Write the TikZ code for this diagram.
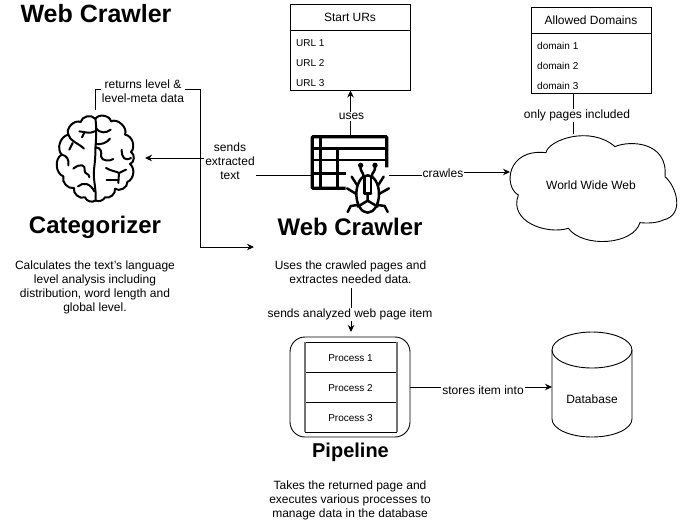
\documentclass[tikz,border=0pt]{standalone}
\usepackage{fontspec}
\setmainfont{Liberation Sans}
\usetikzlibrary{arrows.meta}
\tikzset{
  txt/.style={inner sep=0pt,align=center,font=\fontsize{12}{14.4}\selectfont,text height=8.7pt,text depth=2.5pt},
  multi/.style={inner sep=1pt,align=center,font=\fontsize{12}{14.2}\selectfont},
  small/.style={inner sep=0pt,font=\fontsize{10}{12}\selectfont,text height=7.2pt,text depth=0pt},
  bigtitle/.style={inner sep=0pt,font=\bfseries\fontsize{24}{28}\selectfont},
  toptitle/.style={inner sep=0pt,font=\bfseries\fontsize{25}{28}\selectfont},
  midtitle/.style={inner sep=0pt,font=\bfseries\fontsize{20}{24}\selectfont},
  lbl/.style={fill=white,inner sep=1pt,align=center,font=\fontsize{12}{14.2}\selectfont},
  box/.style={draw=black,line width=0.9pt,inner sep=0pt},
  ghost/.style={inner sep=0pt,outer sep=0pt},
  conn/.style={line width=0.9pt,draw=black},
  arr/.style={conn,-{Stealth[length=7pt,width=6.5pt]}},
  ink/.style={line width=2pt,line cap=round,line join=round,draw=black},
  buglines/.style={line width=2.5pt,line cap=round,line join=round,draw=black},
  tabthick/.style={line width=3.2pt,line cap=butt,draw=black},
  tabthin/.style={line width=2.4pt,line cap=butt,draw=black},
}
\begin{document}
\begin{tikzpicture}[x=1pt,y=-1pt]
\useasboundingbox (0,0) rectangle (685,528);

% Title and captions
\node[toptitle] (title) at (96,13.5) {Web Crawler};
\node[bigtitle] (catname) at (95,227.5) {Categorizer};
\node[bigtitle] (crawlname) at (350,226.5) {Web Crawler};
\node[midtitle] (pipename) at (350.5,452.5) {Pipeline};
\node[multi] (catdesc) at (95,287.5) {Calculates the text's language\\level analysis including\\distribution, word length and\\global level.};
\node[multi] (crawldesc) at (350.5,272.5) {Uses the crawled pages and\\extractes needed data.};
\node[multi] (pipedesc) at (350,500.5) {Takes the returned page and\\executes various processes to\\manage data in the database};

% Start URLs list
\node[box,minimum width=119.5pt,minimum height=86pt] (start) at (350.25,47) {};
\draw[conn] (start.west |- 0,30.5) -- (start.east |- 0,30.5);
\node[txt] (starthead) at (350,18) {Start URs};
\node[small,anchor=west] (url1) at (296,43) {URL 1};
\node[small,anchor=west] (url2) at (296,63) {URL 2};
\node[small,anchor=west] (url3) at (296,83) {URL 3};

% Allowed domains list
\node[box,minimum width=120pt,minimum height=85.5pt] (allowed) at (591.5,50.25) {};
\draw[conn] (allowed.west |- 0,33) -- (allowed.east |- 0,33);
\node[txt] (allowedhead) at (591,21) {Allowed Domains};
\node[small,anchor=west] (dom1) at (537,46) {domain 1};
\node[small,anchor=west] (dom2) at (537,66) {domain 2};
\node[small,anchor=west] (dom3) at (537,86) {domain 3};

% Cloud
\begin{scope}[shift={(490,0)},x=0.3333pt,y=-0.3333pt]
\draw[conn] (168,458) .. controls (175,420) and (300,375) .. (375,440)
  .. controls (420,420) and (535,425) .. (525,530)
  .. controls (560,560) and (585,645) .. (520,660)
  .. controls (500,670) and (470,670) .. (450,668)
  .. controls (430,735) and (280,745) .. (235,685)
  .. controls (170,705) and (55,665) .. (85,585)
  .. controls (40,560) and (50,445) .. (168,458) -- cycle;
\end{scope}
\node[txt] (web) at (591,186) {World Wide Web};
\coordinate (cloudin) at (510,172);
\coordinate (cloudtop) at (573,134);

% Pipeline
\node[draw=black,line width=0.9pt,rounded corners=15pt,minimum width=120pt,minimum height=100pt,inner sep=0pt] (pipe) at (350,387) {};
\node[ghost,minimum width=92pt,minimum height=30pt] (proc1) at (351,357) {};
\node[ghost,minimum width=92pt,minimum height=30pt] (proc2) at (351,387) {};
\node[ghost,minimum width=92pt,minimum height=30pt] (proc3) at (351,417) {};
\draw[conn] (proc1.north west) -- (proc1.north east);
\draw[conn] (proc1.south west) -- (proc1.south east);
\draw[conn] (proc2.south west) -- (proc2.south east);
\draw[conn] (proc3.south west) -- (proc3.south east);
\draw[line width=1.2pt,draw=black!55] (proc1.north west) -- (proc3.south west);
\draw[line width=1.2pt,draw=black!55] (proc1.north east) -- (proc3.south east);
\node[small] (p1t) at (350.5,357.5) {Process 1};
\node[small] (p2t) at (350.5,387.5) {Process 2};
\node[small] (p3t) at (350.5,417.5) {Process 3};

% Database
\node[ghost,minimum width=80pt,minimum height=105pt] (db) at (592,384.5) {};
\draw[conn] (552,350) arc[x radius=40,y radius=-18,start angle=180,end angle=0]
  -- (632,419) arc[x radius=40,y radius=18,start angle=0,end angle=180] -- cycle;
\draw[conn] (552,350) arc[x radius=40,y radius=18,start angle=180,end angle=0];
\node[txt] (dbt) at (592,400.5) {Database};

% Brain icon
\node[ghost,minimum width=100pt,minimum height=96pt] (brain) at (95,158) {};
\begin{scope}[shift={(50,108)},x=0.3333pt,y=-0.3333pt]
\draw[ink] (135,32) to[bend right=70] (92,42) to[bend right=70] (55,80)
  to[bend right=60] (35,140) to[bend right=65] (40,205)
  to[bend right=60] (72,240) to[bend right=65] (105,268) to[bend right=50] (136,278);
\draw[ink] (137,32) to[bend left=70] (183,40) to[bend left=70] (225,80)
  to[bend left=65] (243,132) to[bend left=70] (240,168)
  to[bend left=60] (232,222) to[bend left=70] (195,242) to[bend left=60] (165,268) to[bend left=40] (138,278);
\draw[ink] (136,30) .. controls (142,70) and (136,110) .. (136,135)
  .. controls (136,170) and (128,190) .. (133,220) .. controls (136,245) and (138,255) .. (137,278);
\draw[ink] (88,70) .. controls (105,72) and (120,78) .. (134,70);
\draw[ink] (103,74) -- (96,88);
\draw[ink] (55,80) .. controls (60,100) and (85,105) .. (102,122);
\draw[ink] (68,105) -- (58,125);
\draw[ink] (35,140) .. controls (50,142) and (58,155) .. (55,172);
\draw[ink] (70,182) .. controls (90,165) and (108,170) .. (104,188) .. controls (104,200) and (118,195) .. (118,208);
\draw[ink] (84,235) .. controls (100,222) and (120,225) .. (133,250);
\draw[ink] (138,60) .. controls (150,78) and (170,75) .. (182,65);
\draw[ink] (137,108) .. controls (155,110) and (170,105) .. (180,92);
\draw[ink] (136,118) .. controls (155,118) and (155,135) .. (153,145) .. controls (155,160) and (180,160) .. (190,153);
\draw[ink] (243,150) .. controls (225,160) and (215,150) .. (215,125);
\draw[ink] (168,180) .. controls (185,190) and (200,190) .. (207,195) -- (205,225);
\draw[ink] (207,195) -- (228,185);
\draw[ink] (170,215) -- (205,215);
\end{scope}

% Crawler icon: table and bug
\node[ghost,minimum width=77pt,minimum height=78pt] (crawler) at (350.5,175) {};
\begin{scope}[shift={(305,130)},x=0.3333pt,y=-0.3333pt]
\draw[tabthick,rounded corners=1pt] (122,175) -- (22,175) -- (22,20) -- (245,20) -- (245,112);
\draw[tabthick] (22,55) -- (245,55);
\draw[tabthin] (47,20) -- (47,175);
\draw[tabthin] (97,55) -- (97,175);
\draw[tabthin] (22,90) -- (245,90);
\draw[tabthin] (22,130) -- (122,130);
% bug
\fill[black] (167,106) circle[radius=8];
\fill[black] (210,106) circle[radius=8];
\draw[buglines] (188,192) ellipse[x radius=34,y radius=56];
\draw[buglines] (167,106) .. controls (164,125) and (175,125) .. (176,140);
\draw[buglines] (210,106) .. controls (213,125) and (201,125) .. (200,140);
\draw[buglines] (178,142) -- (178,190) (198,142) -- (198,190);
\draw[buglines] (178,190) -- (198,190);
\draw[buglines] (188,190) -- (188,212) -- (158,230);
\draw[buglines] (188,212) -- (218,230);
\draw[buglines] (156,165) -- (140,140);
\draw[buglines] (154,192) -- (126,175);
\draw[buglines] (158,225) -- (137,228) -- (128,246);
\draw[buglines] (220,165) -- (236,140);
\draw[buglines] (222,192) -- (252,175);
\draw[buglines] (218,225) -- (239,228) -- (248,246);
\end{scope}

% Connectors
\draw[arr] (crawler.north) -- (crawler.north |- start.south);
\node[lbl] (useslbl) at (351.5,116.5) {uses};

\draw[conn] (allowed.south -| cloudtop) -- (cloudtop);
\node[lbl] (onlylbl) at (577,115.5) {only pages included};

\draw[arr] (crawler.east) -- (450,175) -- (450,172) -- (cloudin);
\node[lbl] (crawllbl) at (443,173.5) {crawles};

\draw[arr] (brain.north) -- (95,89) -- (200,89) -- (200,247) -- (254,247);
\node[lbl] (retlbl) at (143,91.5) {returns level \&\\level-meta data};

\draw[arr] (crawler.west) -- (230,175) -- (230,158) -- (brain.east);
\node[lbl] (sendlbl) at (230,161.5) {sends\\extracted\\text};

\draw[arr] (351,288) -- (351,332);
\node[lbl] (itemlbl) at (350,314.5) {sends analyzed web page item};

\draw[arr] (pipe.east) -- (pipe.east -| db.west);
\node[lbl] (storelbl) at (483,390.5) {stores item into};
\end{tikzpicture}
\end{document}
